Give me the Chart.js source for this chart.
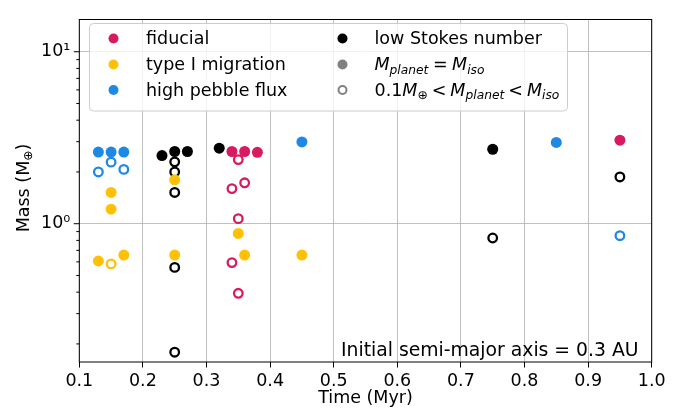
<!DOCTYPE html>
<html>
<head>
<meta charset="utf-8">
<script src="https://cdn.jsdelivr.net/npm/chart.js@4"></script>
<style>
  html, body { margin: 0; padding: 0; background: #fff; }
  #wrap { width: 681px; height: 410px; }
</style>
</head>
<body>
<div id="wrap"><canvas id="chart" width="681" height="410"></canvas></div>
<script>
// colours
const PINK = "#D81B60";
const YELLOW = "#FFC107";
const BLUE = "#1E88E5";
const BLACK = "#000000";
const GREY = "#808080";

// data (time in Myr, mass in Earth masses)
const fiducialFilledT = [0.34, 0.36, 0.38, 0.95];
const fiducialFilledM = [2.63, 2.63, 2.60, 3.06];
const fiducialOpenT = [0.35, 0.34, 0.36, 0.35, 0.34, 0.35];
const fiducialOpenM = [2.36, 1.60, 1.73, 1.07, 0.594, 0.394];

const typeIFilledT = [0.15, 0.15, 0.13, 0.17, 0.25, 0.25, 0.35, 0.36, 0.45];
const typeIFilledM = [1.52, 1.215, 0.608, 0.657, 1.80, 0.657, 0.878, 0.657, 0.657];
const typeIOpenT = [0.15];
const typeIOpenM = [0.584];

const pebbleFilledT = [0.13, 0.15, 0.17, 0.45, 0.85];
const pebbleFilledM = [2.61, 2.61, 2.61, 2.99, 2.97];
const pebbleOpenT = [0.13, 0.15, 0.17, 0.95];
const pebbleOpenM = [2.00, 2.28, 2.07, 0.852];

const stokesFilledT = [0.23, 0.25, 0.27, 0.32, 0.75];
const stokesFilledM = [2.49, 2.63, 2.63, 2.75, 2.71];
const stokesOpenT = [0.25, 0.25, 0.25, 0.25, 0.25, 0.75, 0.95];
const stokesOpenM = [2.29, 2.00, 1.52, 0.557, 0.179, 0.826, 1.87];

const xTicks = [0.1, 0.2, 0.3, 0.4, 0.5, 0.6, 0.7, 0.8, 0.9, 1.0];
const yMajor = [1, 10];
const yMinor = [0.2, 0.3, 0.4, 0.5, 0.6, 0.7, 0.8, 0.9, 2, 3, 4, 5, 6, 7, 8, 9];

const xTitle = "Time (Myr)";
const annotation = "Initial semi-major axis = 0.3 AU";

const FONT = "DejaVu Sans";
const FS = 17.5;

function toPoints(ts, ms) {
  return ts.map((t, i) => ({ x: t, y: ms[i] }));
}

function filledSet(ts, ms, color) {
  return {
    data: toPoints(ts, ms),
    pointRadius: 5.5,
    pointBorderWidth: 0,
    backgroundColor: color,
    borderColor: color
  };
}

function openSet(ts, ms, color) {
  return {
    data: toPoints(ts, ms),
    pointRadius: 4.3,
    pointBorderWidth: 2.3,
    backgroundColor: "rgba(0,0,0,0)",
    borderColor: color
  };
}

// runs: [text, italic, sub, gap] ; gap = extra space on each side (operators)
function drawRuns(ctx, runs, x, y, size) {
  let cx = x;
  for (const r of runs) {
    const sz = r[2] ? size * 0.7 : size;
    ctx.font = (r[1] ? "italic " : "") + sz + "px '" + FONT + "'";
    const dy = r[2] ? size * 0.22 : 0;
    const gap = r[3] || 0;
    cx += gap;
    ctx.fillText(r[0], cx, y + dy);
    cx += ctx.measureText(r[0]).width + gap;
  }
  return cx;
}

const legendCol1 = [
  { label: "fiducial", color: PINK },
  { label: "type I migration", color: YELLOW },
  { label: "high pebble flux", color: BLUE }
];

const legendCol2 = [
  { runs: [["low Stokes number", false, false]], color: BLACK, open: false },
  { runs: [["M", true, false], ["planet", true, true], ["=", false, false, 4.5], ["M", true, false], ["iso", true, true]], color: GREY, open: false },
  { runs: [["0.1", false, false], ["M", true, false], ["⊕", false, true], ["<", false, false, 4], ["M", true, false], ["planet", true, true], ["<", false, false, 4], ["M", true, false], ["iso", true, true]], color: GREY, open: true }
];

const extras = {
  id: "extras",
  afterDatasetsDraw(chart) {
    const ctx = chart.ctx;
    const a = chart.chartArea;
    const ys = chart.scales.y;

    ctx.save();

    // frame
    ctx.strokeStyle = "#000";
    ctx.lineWidth = 1;
    ctx.strokeRect(a.left, a.top, a.right - a.left, a.bottom - a.top);

    // y tick marks
    ctx.beginPath();
    for (const v of yMajor) {
      const p = ys.getPixelForValue(v);
      ctx.moveTo(a.left - 5.5, p);
      ctx.lineTo(a.left, p);
    }
    for (const v of yMinor) {
      const p = ys.getPixelForValue(v);
      ctx.moveTo(a.left - 3, p);
      ctx.lineTo(a.left, p);
    }
    ctx.stroke();

    // legend box
    const bx = 89.5, by = 23.5, bw = 478, bh = 87.5, rr = 4;
    ctx.beginPath();
    ctx.roundRect(bx, by, bw, bh, rr);
    ctx.fillStyle = "rgba(255,255,255,0.8)";
    ctx.fill();
    ctx.strokeStyle = "#cccccc";
    ctx.lineWidth = 1;
    ctx.stroke();

    const rowY = [38.5, 64.5, 90];
    ctx.textBaseline = "alphabetic";
    ctx.textAlign = "left";

    legendCol1.forEach((e, i) => {
      ctx.beginPath();
      ctx.arc(113.5, rowY[i], 5, 0, Math.PI * 2);
      ctx.fillStyle = e.color;
      ctx.fill();
      ctx.fillStyle = "#000";
      ctx.font = FS + "px '" + FONT + "'";
      ctx.fillText(e.label, 146, rowY[i] + 5.5);
    });

    legendCol2.forEach((e, i) => {
      ctx.beginPath();
      if (e.open) {
        ctx.arc(342.5, rowY[i], 4, 0, Math.PI * 2);
        ctx.strokeStyle = e.color;
        ctx.lineWidth = 2;
        ctx.stroke();
      } else {
        ctx.arc(342.5, rowY[i], 5, 0, Math.PI * 2);
        ctx.fillStyle = e.color;
        ctx.fill();
      }
      ctx.fillStyle = "#000";
      drawRuns(ctx, e.runs, 374.5, rowY[i] + 5.5, FS);
    });

    // annotation
    ctx.fillStyle = "#000";
    ctx.font = "18.8px '" + FONT + "'";
    ctx.textAlign = "right";
    ctx.fillText(annotation, 638.5, 355.5);

    // x title
    ctx.font = FS + "px '" + FONT + "'";
    ctx.textAlign = "center";
    ctx.fillText(xTitle, (a.left + a.right) / 2, 403);

    // y title, rotated
    ctx.translate(28.5, 188);
    ctx.rotate(-Math.PI / 2);
    ctx.textAlign = "left";
    const runs = [["Mass (M", false, false], ["⊕", false, true], [")", false, false]];
    let w = 0;
    for (const r of runs) {
      ctx.font = (r[2] ? FS * 0.7 : FS) + "px '" + FONT + "'";
      w += ctx.measureText(r[0]).width;
    }
    drawRuns(ctx, runs, -w / 2, 0, FS);

    ctx.restore();
  }
};

Chart.defaults.font.family = FONT;
Chart.defaults.font.size = FS;
Chart.defaults.color = "#000";

new Chart(document.getElementById("chart").getContext("2d"), {
  type: "scatter",
  data: {
    datasets: [
      filledSet(fiducialFilledT, fiducialFilledM, PINK),
      openSet(fiducialOpenT, fiducialOpenM, PINK),
      filledSet(typeIFilledT, typeIFilledM, YELLOW),
      openSet(typeIOpenT, typeIOpenM, YELLOW),
      filledSet(pebbleFilledT, pebbleFilledM, BLUE),
      openSet(pebbleOpenT, pebbleOpenM, BLUE),
      filledSet(stokesFilledT, stokesFilledM, BLACK),
      openSet(stokesOpenT, stokesOpenM, BLACK)
    ]
  },
  options: {
    responsive: false,
    animation: false,
    layout: {
      padding: { left: 0, right: 29.3, top: 12, bottom: 0 }
    },
    plugins: {
      legend: { display: false },
      tooltip: { enabled: false }
    },
    scales: {
      x: {
        type: "linear",
        min: 0.1,
        max: 1.0,
        afterBuildTicks(scale) {
          scale.ticks = xTicks.map(v => ({ value: v }));
        },
        afterFit(scale) {
          scale.height = 48;
        },
        ticks: {
          autoSkip: false,
          maxRotation: 0,
          padding: 3,
          color: "#000",
          font: { size: FS },
          callback: v => Number(v).toFixed(1)
        },
        grid: {
          color: "#b0b0b0",
          lineWidth: 0.8,
          tickColor: "#000",
          tickLength: 5.5,
          tickWidth: 1
        },
        border: { display: false }
      },
      y: {
        type: "logarithmic",
        min: 0.157,
        max: 15.4,
        afterBuildTicks(scale) {
          scale.ticks = yMinor.concat(yMajor).sort((p, q) => p - q).map(v => ({ value: v }));
        },
        afterFit(scale) {
          scale.width = 79.3;
        },
        ticks: {
          autoSkip: false,
          padding: 9,
          color: "#000",
          font: { size: FS },
          callback: v => (v === 1 ? "10⁰" : v === 10 ? "10¹" : "")
        },
        grid: {
          color: c => (c.tick && yMajor.includes(c.tick.value) ? "#b0b0b0" : "rgba(0,0,0,0)"),
          lineWidth: 0.8,
          drawTicks: false
        },
        border: { display: false }
      }
    }
  },
  plugins: [extras]
});
</script>
</body>
</html>
